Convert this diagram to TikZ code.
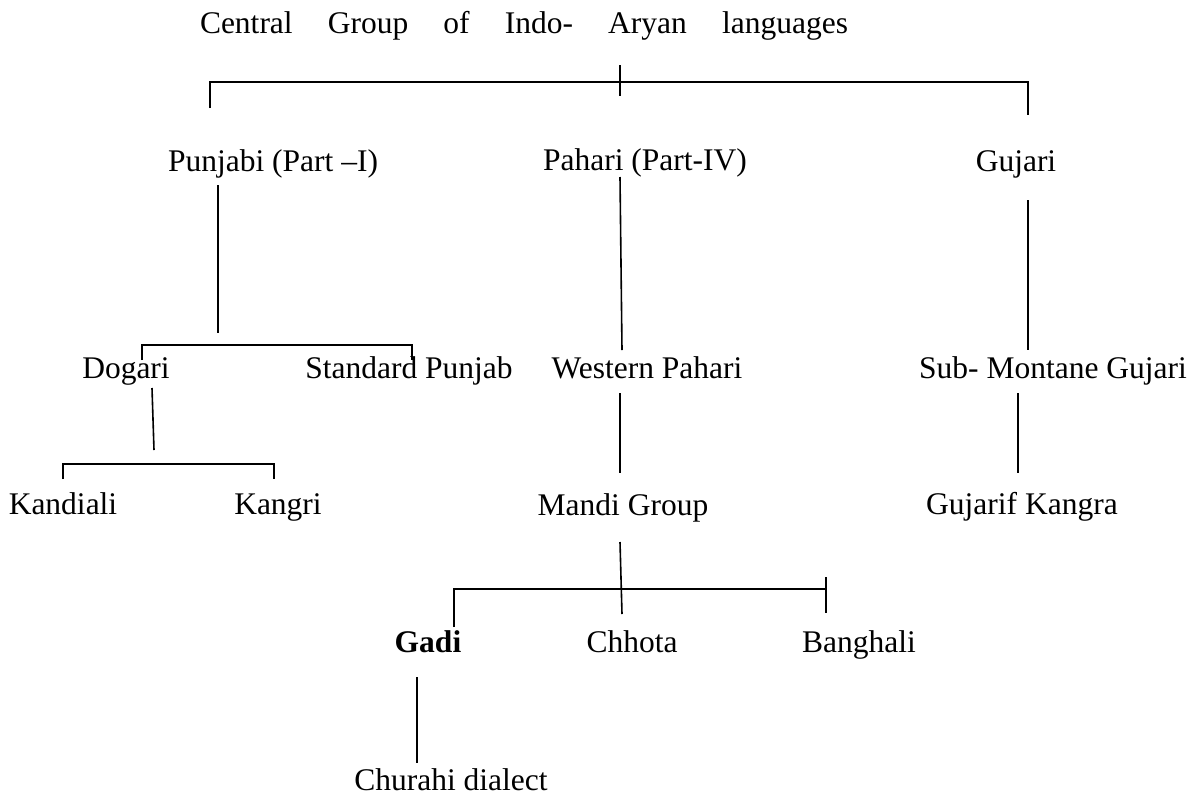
\documentclass[tikz,border=0pt]{standalone}
\usepackage{fontspec}
\setmainfont{Liberation Serif}
\usetikzlibrary{positioning}
\tikzstyle{lang} = [inner sep=0pt, anchor=base]
\tikzstyle{branch} = [draw=black, line width=1.6pt]

\begin{document}
\begin{tikzpicture}[x=1pt, y=-1pt, font=\fontsize{31.5}{38}\selectfont]
\useasboundingbox (0,0) rectangle (1195,796);

\node (root) [lang] at (524,33) {\makebox[648pt][s]{Central Group of Indo- Aryan languages}};
\node (pun) [lang] at (273,171) {Punjabi (Part –I)};
\node (pah) [lang] at (645,170) {Pahari (Part-IV)};
\node (guj) [lang] at (1016,171) {Gujari};
\node (dog) [lang] at (126,378) {Dogari};
\node (std) [lang] at (409,378) {Standard Punjab};
\node (wpa) [lang] at (647,378) {Western Pahari};
\node (smg) [lang] at (1053,378) {Sub- Montane Gujari};
\node (kan) [lang] at (63,514) {Kandiali};
\node (kng) [lang] at (278,514) {Kangri};
\node (man) [lang] at (623,515) {Mandi Group};
\node (gka) [lang] at (1022,514) {Gujarif Kangra};
\node (gad) [lang] at (428,652) {\textbf{Gadi}};
\node (chh) [lang] at (632,652) {Chhota};
\node (ban) [lang] at (859,652) {Banghali};
\node (chu) [lang] at (451,790) {Churahi dialect};

% joints of the tree
\coordinate (rootT) at (620,65);
\coordinate (rootB) at (620,96);
\coordinate (topL) at (210,82);
\coordinate (topR) at (1028,82);
\coordinate (punT) at (218,185);
\coordinate (punB) at (218,333);
\coordinate (pahT) at (620,177);
\coordinate (pahB) at (622,350);
\coordinate (gujT) at (1028,200);
\coordinate (gujB) at (1028,350);
\coordinate (punL) at (142,345);
\coordinate (punR) at (412,345);
\coordinate (dogT) at (152,388);
\coordinate (dogB) at (154,450);
\coordinate (dogL) at (63,464);
\coordinate (dogR) at (274,464);
\coordinate (wpaT) at (620,393);
\coordinate (wpaB) at (620,473);
\coordinate (smgT) at (1018,393);
\coordinate (smgB) at (1018,473);
\coordinate (manT) at (620,542);
\coordinate (manB) at (622,614);
\coordinate (manL) at (454,589);
\coordinate (manR) at (826,589);
\coordinate (gadT) at (417,677);
\coordinate (gadB) at (417,763);

\draw[branch] (rootT) -- (rootB);
\draw[branch] (topL) ++(0,26) -- (topL) -- (topR) -- ++(0,33);
\draw[branch] (punT) -- (punB);
\draw[branch] (pahT) -- (pahB);
\draw[branch] (gujT) -- (gujB);
\draw[branch] (punL) ++(0,15) -- (punL) -- (punR) -- ++(0,15);
\draw[branch] (dogT) -- (dogB);
\draw[branch] (dogL) ++(0,15) -- (dogL) -- (dogR) -- ++(0,15);
\draw[branch] (wpaT) -- (wpaB);
\draw[branch] (smgT) -- (smgB);
\draw[branch] (manT) -- (manB);
\draw[branch] (manL) ++(0,38) -- (manL) -- (manR);
\draw[branch] (manR) ++(0,-12) -- ++(0,36);
\draw[branch] (gadT) -- (gadB);
\end{tikzpicture}
\end{document}
